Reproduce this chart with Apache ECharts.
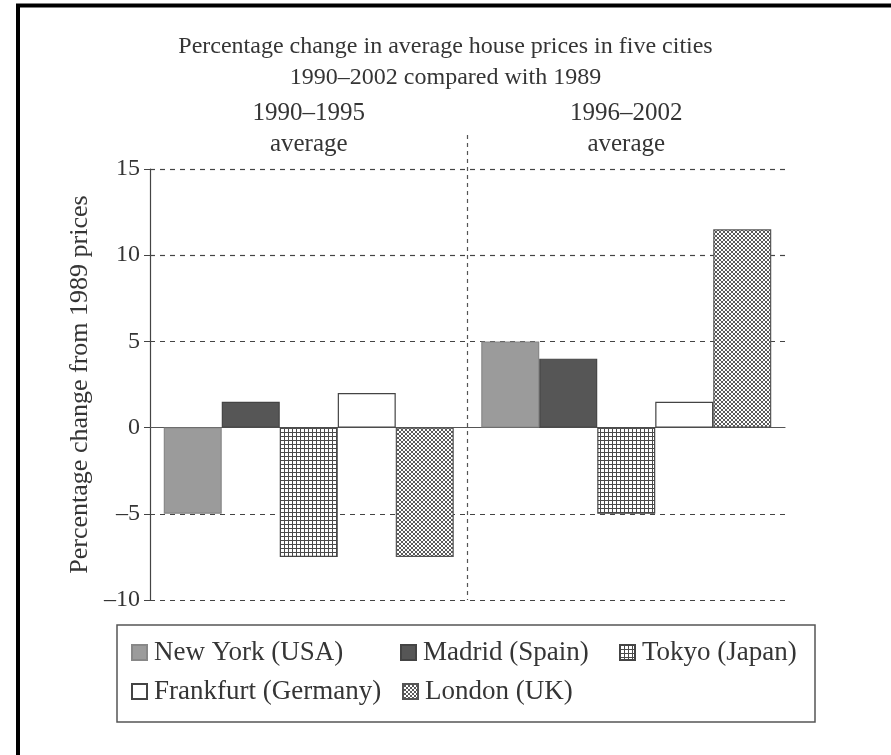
<!DOCTYPE html>
<html>
<head>
<meta charset="utf-8">
<script src="https://cdn.jsdelivr.net/npm/echarts@6/dist/echarts.min.js"></script>
<style>
  html, body { margin: 0; padding: 0; background: #fff; }
  #chart { width: 891px; height: 755px; }
</style>
</head>
<body>
<div id="chart"></div>
<script>
// periods on the x axis
const periods = ['1990\u20131995\naverage', '1996\u20132002\naverage'];
// city names (legend)
const cities = ['New York (USA)', 'Madrid (Spain)', 'Tokyo (Japan)', 'Frankfurt (Germany)', 'London (UK)'];
// % change from 1989 prices, [1990-1995, 1996-2002]
const newYork = [-5, 5];
const madrid = [1.5, 4];
const tokyo = [-7.5, -5];
const frankfurt = [2, 1.5];
const london = [-7.5, 11.5];
const yTicks = [-10, -5, 0, 5, 10, 15];

const serif = '"Liberation Serif", "DejaVu Serif", serif';
const ink = '#353535';

// small canvas patterns for the hatched bars
function makePattern(size, draw) {
  const c = document.createElement('canvas');
  c.width = size; c.height = size;
  const ctx = c.getContext('2d');
  ctx.fillStyle = '#fff';
  ctx.fillRect(0, 0, size, size);
  draw(ctx);
  return { image: c, repeat: 'repeat' };
}
const gridPattern = makePattern(4, ctx => {
  ctx.fillStyle = '#4a4a4a';
  ctx.fillRect(0, 0, 4, 1);
  ctx.fillRect(0, 0, 1, 4);
});
const crossPattern = makePattern(4, ctx => {
  ctx.fillStyle = '#5a5a5a';
  for (let i = 0; i < 4; i++) {
    ctx.fillRect(i, i, 1, 1);
    ctx.fillRect(3 - i, i, 1, 1);
  }
});

const chart = echarts.init(document.getElementById('chart'));

function bar(name, data, fill, border) {
  return {
    name: name,
    type: 'bar',
    data: data,
    barWidth: 58,
    barGap: '0%',
    itemStyle: { color: fill, borderColor: border, borderWidth: 1.2 }
  };
}

function legendAt(name, left, top) {
  return {
    data: [name],
    left: left,
    top: top,
    padding: 0,
    icon: 'rect',
    itemWidth: 15,
    itemHeight: 15,
    itemGap: 0,
    selectedMode: false,
    textStyle: { fontFamily: serif, fontSize: 27, color: ink, padding: [0, 0, 0, 2] }
  };
}

chart.setOption({
  animation: false,
  backgroundColor: '#fff',
  title: {
    text: 'Percentage change in average house prices in five cities\n1990\u20132002 compared with 1989',
    left: 'center',
    top: 26,
    textStyle: { fontFamily: serif, fontSize: 24, fontWeight: 'normal', color: ink, lineHeight: 31 }
  },
  grid: { left: 150, right: 106, top: 169, bottom: 155 },
  legend: [
    legendAt(cities[0], 131, 639),
    legendAt(cities[1], 400, 639),
    legendAt(cities[2], 619, 639),
    legendAt(cities[3], 131, 678),
    legendAt(cities[4], 402, 678)
  ],
  xAxis: [
    {
      type: 'category',
      data: periods,
      axisLine: { onZero: true, lineStyle: { color: '#555', width: 1.2 } },
      axisTick: { show: false },
      axisLabel: { show: false },
      splitLine: { show: false }
    },
    {
      type: 'category',
      data: periods,
      position: 'top',
      axisLine: { show: false },
      axisTick: { show: false },
      axisLabel: { fontFamily: serif, fontSize: 25, color: ink, lineHeight: 31, margin: 9 }
    }
  ],
  yAxis: {
    type: 'value',
    min: yTicks[0],
    max: yTicks[yTicks.length - 1],
    interval: 5,
    name: 'Percentage change from 1989 prices',
    nameLocation: 'middle',
    nameGap: 57,
    nameTextStyle: { fontFamily: serif, fontSize: 26, color: ink },
    axisLine: { show: true, lineStyle: { color: '#444', width: 1.2 } },
    axisTick: { show: true, length: 6, lineStyle: { color: '#444' } },
    axisLabel: {
      fontFamily: serif, fontSize: 24, color: ink, margin: 10,
      formatter: v => String(v).replace('-', '\u2013')
    },
    splitLine: { lineStyle: { color: '#444', type: [5, 5], width: 1.2 } }
  },
  series: [
    bar(cities[0], newYork, '#9b9b9b', '#888'),
    bar(cities[1], madrid, '#565656', '#444'),
    bar(cities[2], tokyo, gridPattern, '#444'),
    bar(cities[3], frankfurt, '#fff', '#444'),
    bar(cities[4], london, crossPattern, '#555')
  ]
});

// divider between the two periods, legend frame and the page border
const c0 = chart.convertToPixel({ xAxisIndex: 0 }, periods[0]);
const c1 = chart.convertToPixel({ xAxisIndex: 0 }, periods[1]);
const divX = (c0 + c1) / 2;
const yBottom = chart.convertToPixel({ yAxisIndex: 0 }, yTicks[0]);

chart.setOption({
  graphic: [
    {
      type: 'line',
      shape: { x1: divX, y1: 135, x2: divX, y2: yBottom },
      style: { stroke: '#555', lineWidth: 1.2, lineDash: [4, 4] }
    },
    {
      type: 'rect',
      shape: { x: 117, y: 625, width: 698, height: 97 },
      style: { fill: 'none', stroke: '#555', lineWidth: 1.5 }
    },
    {
      type: 'line',
      shape: { x1: 16, y1: 5.5, x2: 891, y2: 5.5 },
      style: { stroke: '#000', lineWidth: 4 }
    },
    {
      type: 'line',
      shape: { x1: 18, y1: 4, x2: 18, y2: 755 },
      style: { stroke: '#000', lineWidth: 4 }
    }
  ]
});
</script>
</body>
</html>
